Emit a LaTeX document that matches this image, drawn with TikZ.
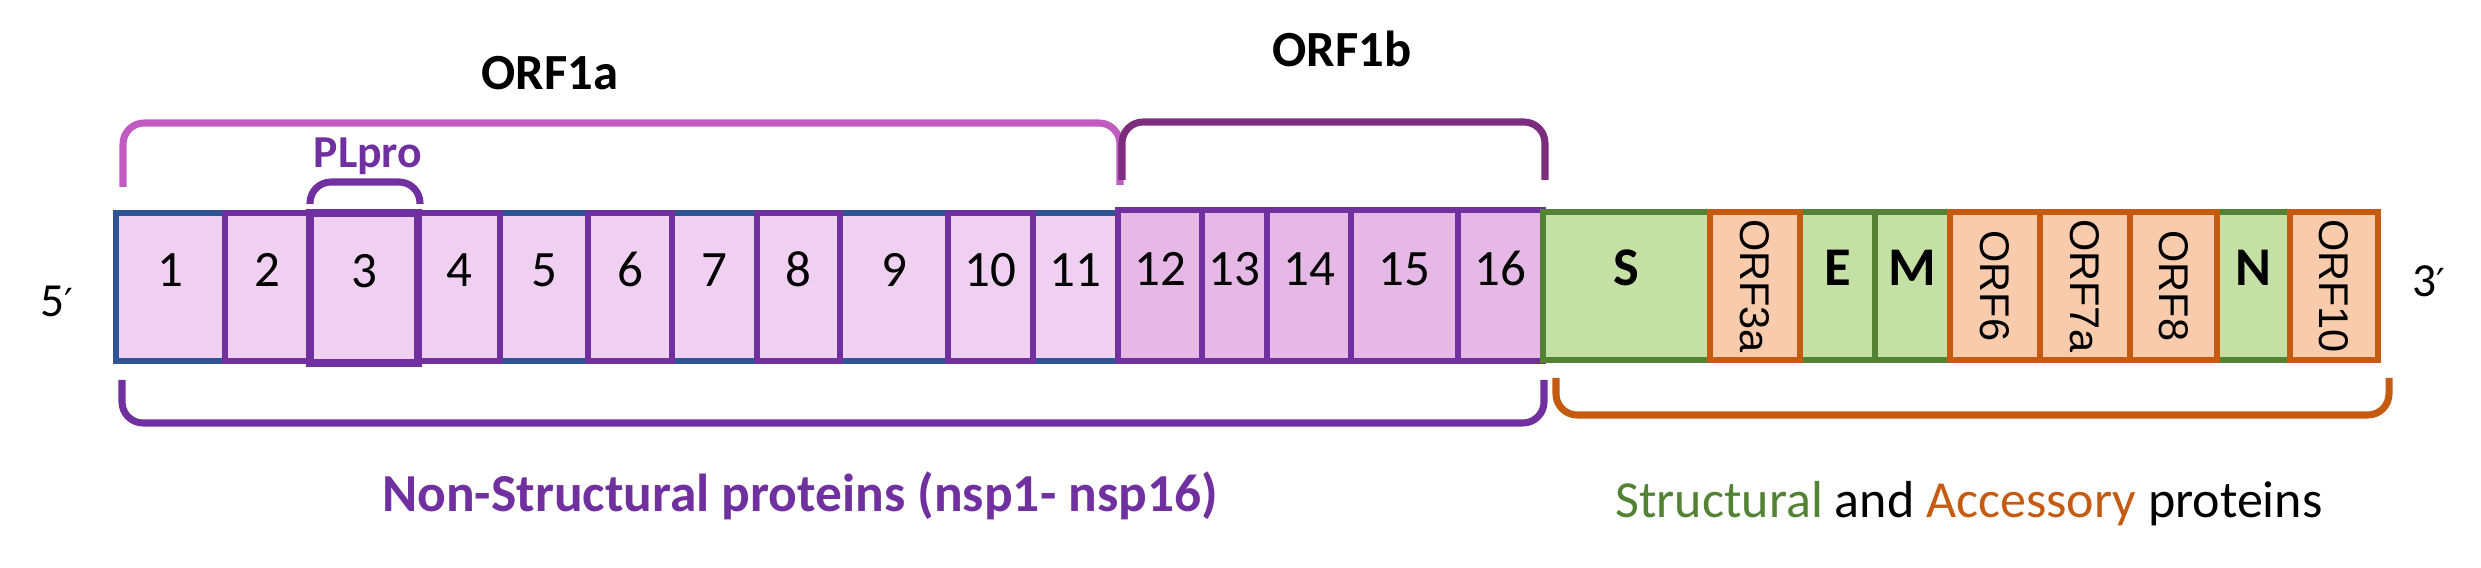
\documentclass[tikz,border=0pt]{standalone}
\usepackage{fontspec}
\setmainfont{Carlito}
\newfontfamily\arialfont{Liberation Sans}
\newfontfamily\primefont{DejaVu Sans}
\usepackage{tikz}
\usetikzlibrary{positioning, fit}
\definecolor{nspline}{RGB}{112,48,160}
\definecolor{nspblue}{RGB}{47,84,150}
\definecolor{nspfill}{RGB}{240,208,240}
\definecolor{nspfilldark}{RGB}{230,184,230}
\definecolor{orfaline}{RGB}{192,92,192}
\definecolor{orfbline}{RGB}{125,45,125}
\definecolor{strline}{RGB}{84,130,53}
\definecolor{strfill}{RGB}{197,224,165}
\definecolor{accline}{RGB}{197,90,17}
\definecolor{accfill}{RGB}{248,203,173}

\begin{document}
\begin{tikzpicture}[
    x=0.01cm, y=-0.01cm,
    nspbox/.style={rectangle, draw=nspline, fill=nspfill, line width=1.6pt, inner sep=0pt, font=\fontsize{14.5}{17}\selectfont},
    strbox/.style={rectangle, draw=strline, fill=strfill, line width=1.7pt, inner sep=0pt, font=\bfseries\fontsize{15.5}{17}\selectfont},
    accbox/.style={rectangle, draw=accline, fill=accfill, line width=1.7pt, inner sep=0pt},
    acctext/.style={rotate=-90, inner sep=0pt, font=\arialfont\fontsize{11.8}{13}\selectfont},
    bracket/.style={line width=2pt, rounded corners=6pt},
    orflabel/.style={font=\bfseries\fontsize{14.4}{17}\selectfont, anchor=base, inner sep=0pt},
    endlabel/.style={font=\fontsize{13.5}{15}\selectfont, anchor=base, inner sep=0pt}
]
\useasboundingbox (0,0) rectangle (2481,568);

% nsp1-nsp11 (ORF1a)
\foreach \i/\xa/\xb in {1/116/225, 5/500/588, 7/672/757, 9/840/948, 11/1033/1118}
  \node[nspbox, draw=nspblue, fit={(\xa,213) (\xb,361)}] (nsp\i) {\i};
\foreach \i/\xa/\xb in {2/225/310, 4/418/500, 6/588/672, 8/757/840, 10/948/1033}
  \node[nspbox, fit={(\xa,213) (\xb,361)}] (nsp\i) {\i};
\node[nspbox, line width=2pt, fit={(310,213) (418,363)}] (nsp3) {3};

% nsp12-nsp16 (ORF1b)
\foreach \i/\xa/\xb in {12/1118/1202, 13/1202/1267, 14/1267/1351, 15/1351/1458, 16/1458/1543}
  \node[nspbox, fill=nspfilldark, fit={(\xa,210) (\xb,361)}] (nsp\i) {\i};

% structural and accessory
\foreach \n/\xa/\xb in {S/1543/1710, E/1800/1875, M/1875/1950, N/2217/2290}
  \node[strbox, fit={(\xa,212) (\xb,360)}] (\n) {\n};
\foreach \n/\xa/\xb/\t in {orf3a/1710/1800/ORF3a, orf6/1950/2040/ORF6, orf7a/2040/2130/ORF7a, orf8/2130/2217/ORF8, orf10/2290/2378/ORF10}
  \node[accbox, fit={(\xa,212) (\xb,360)}, label={[acctext]center:\t}] (\n) {};

% brackets
\draw[bracket, orfaline] (123,187) |- (1120,123) -- (1120,185);
\draw[bracket, orfbline] (1122,180) |- (1545,122) -- (1545,180);
\draw[bracket, nspline] (310,204) |- (420,182) -- (420,204);
\draw[bracket, nspline] (122,380) |- (1544,423) -- (1544,380);
\draw[bracket, accline] (1556,378) |- (2389,415) -- (2389,378);

\node[orflabel] (orf1a) at (550,90) {ORF1a};
\node[orflabel] (orf1b) at (1342,67) {ORF1b};
\node[orflabel, text=nspline, font=\bfseries\fontsize{13}{15}\selectfont] (plpro) at (368,168) {PLpro};
\node[endlabel] (five) at (57,317) {5{\primefont\fontsize{11}{13}\selectfont ′}};
\node[endlabel] (three) at (2429,297) {3{\primefont\fontsize{11}{13}\selectfont ′}};
\node[orflabel, text=nspline, font=\bfseries\fontsize{15.2}{18}\selectfont] (nsptext) at (800,512) {Non-Structural proteins (nsp1- nsp16)};
\node[orflabel, font=\fontsize{14.8}{18}\selectfont] (strtext) at (1969,518) {\textcolor{strline}{Structural} and \textcolor{accline}{Accessory} proteins};
\end{tikzpicture}
\end{document}
